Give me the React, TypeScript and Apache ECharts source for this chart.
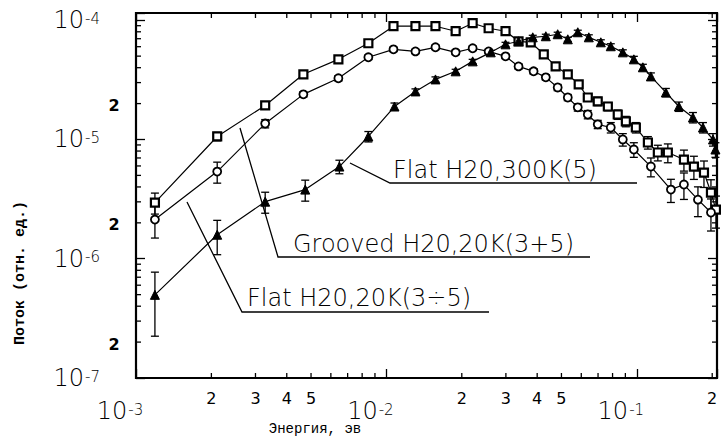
import React, { useEffect, useRef } from "react";
import * as echarts from "echarts";

// ---- Data ----
const energyGrooved = [1.19e-3, 2.11e-3, 3.28e-3, 4.66e-3, 6.43e-3, 8.47e-3, 1.067e-2, 1.306e-2, 1.57e-2, 1.89e-2, 2.21e-2, 2.56e-2, 2.99e-2, 3.37e-2, 3.77e-2, 4.25e-2, 4.74e-2, 5.3e-2, 5.86e-2, 6.37e-2, 6.98e-2, 7.66e-2, 8.39e-2, 9.04e-2, 9.91e-2, 0.1107, 0.1213, 0.133, 0.1542, 0.169, 0.1854, 0.1977, 0.207];
const fluxGrooved = [2.96e-6, 1.06e-5, 1.93e-5, 3.52e-5, 4.7e-5, 6.41e-5, 8.91e-5, 8.91e-5, 8.91e-5, 8.09e-5, 9.44e-5, 8.57e-5, 8.09e-5, 6.66e-5, 6.53e-5, 5.18e-5, 4.1e-5, 3.52e-5, 2.9e-5, 2.25e-5, 2.09e-5, 1.89e-5, 1.62e-5, 1.42e-5, 1.26e-5, 9.44e-6, 7.78e-6, 7.78e-6, 6.79e-6, 5.93e-6, 5.28e-6, 3.59e-6, 2.58e-6];
const errGrooved = [0.2, 0.08, 0.06, 0.05, 0.05, 0.04, 0.04, 0.04, 0.04, 0.04, 0.04, 0.04, 0.04, 0.05, 0.05, 0.05, 0.06, 0.06, 0.07, 0.07, 0.08, 0.08, 0.09, 0.1, 0.1, 0.12, 0.15, 0.18, 0.2, 0.22, 0.25, 0.28, 0.3];

const energyFlat20 = [1.19e-3, 2.11e-3, 3.28e-3, 4.66e-3, 6.43e-3, 8.47e-3, 1.067e-2, 1.306e-2, 1.57e-2, 1.89e-2, 2.21e-2, 2.56e-2, 2.99e-2, 3.37e-2, 3.87e-2, 4.33e-2, 4.83e-2, 5.3e-2, 5.81e-2, 6.37e-2, 6.98e-2, 7.87e-2, 8.79e-2, 9.73e-2, 0.1138, 0.1368, 0.1542, 0.1754, 0.1977];
const fluxFlat20 = [2.13e-6, 5.38e-6, 1.36e-5, 2.39e-5, 3.26e-5, 4.89e-5, 5.7e-5, 5.48e-5, 5.93e-5, 5.38e-5, 5.82e-5, 5.48e-5, 4.98e-5, 4.1e-5, 3.73e-5, 3.32e-5, 2.73e-5, 2.25e-5, 1.86e-5, 1.62e-5, 1.34e-5, 1.26e-5, 1.0e-5, 8.24e-6, 5.93e-6, 3.8e-6, 4.19e-6, 3.13e-6, 2.44e-6];
const errFlat20 = [0.3, 0.2, 0.08, 0.05, 0.05, 0.04, 0.04, 0.04, 0.04, 0.04, 0.04, 0.04, 0.04, 0.05, 0.05, 0.05, 0.06, 0.06, 0.07, 0.08, 0.08, 0.1, 0.12, 0.14, 0.18, 0.22, 0.25, 0.28, 0.3];

const energyFlat300 = [1.19e-3, 2.11e-3, 3.28e-3, 4.74e-3, 6.49e-3, 8.47e-3, 1.077e-2, 1.306e-2, 1.57e-2, 1.89e-2, 2.21e-2, 2.61e-2, 2.99e-2, 3.37e-2, 3.84e-2, 4.33e-2, 4.83e-2, 5.3e-2, 5.81e-2, 6.43e-2, 7.18e-2, 7.87e-2, 8.79e-2, 9.73e-2, 0.1057, 0.1138, 0.1306, 0.1472, 0.1675, 0.1837, 0.2014, 0.206];
const fluxFlat300 = [4.98e-7, 1.59e-6, 3.01e-6, 3.8e-6, 5.93e-6, 1.06e-5, 1.89e-5, 2.53e-5, 3.19e-5, 3.73e-5, 4.52e-5, 5.38e-5, 6.28e-5, 6.66e-5, 7.19e-5, 7.34e-5, 7.63e-5, 6.92e-5, 7.93e-5, 7.19e-5, 6.53e-5, 6.05e-5, 5.38e-5, 4.7e-5, 4.03e-5, 3.38e-5, 2.48e-5, 1.89e-5, 1.53e-5, 1.26e-5, 1.0e-5, 8.24e-6];
const errFlat300 = [0.55, 0.32, 0.2, 0.2, 0.13, 0.1, 0.07, 0.05, 0.05, 0.04, 0.04, 0.04, 0.04, 0.04, 0.04, 0.04, 0.04, 0.04, 0.04, 0.05, 0.05, 0.05, 0.05, 0.06, 0.06, 0.07, 0.08, 0.09, 0.1, 0.1, 0.12, 0.14];

const X_MIN = 1e-3;
const X_MAX = 0.209;
const Y_MIN = 1e-7;
const Y_MAX = 1.15e-4;

const xMinorTicks = [0.002, 0.003, 0.004, 0.005, 0.006, 0.007, 0.008, 0.009, 0.02, 0.03, 0.04, 0.05, 0.06, 0.07, 0.08, 0.09, 0.2];
const xMinorLabelValues = [0.002, 0.003, 0.004, 0.005, 0.02, 0.03, 0.04, 0.05, 0.2];
const xMinorLabelTexts = ["2", "3", "4", "5", "2", "3", "4", "5", "2"];
const yMinorTicks = [2e-7, 3e-7, 4e-7, 5e-7, 6e-7, 7e-7, 8e-7, 9e-7, 2e-6, 3e-6, 4e-6, 5e-6, 6e-6, 7e-6, 8e-6, 9e-6, 2e-5, 3e-5, 4e-5, 5e-5, 6e-5, 7e-5, 8e-5, 9e-5];
const yMinorLabelValues = [2e-7, 2e-6, 2e-5];
const yMinorLabelTexts = ["2", "2", "2"];

const labelFlat300 = "Flat H20,300K(5)";
const labelGrooved = "Grooved H20,20K(3+5)";
const labelFlat20 = "Flat H20,20K(3÷5)";
const xTitle = "Энергия, эв";
const yTitle = "Поток (отн. ед.)";

const FONT = "'DejaVu Sans', 'Open Sans', sans-serif";
const MONO = "'Liberation Mono', 'DejaVu Sans Mono', monospace";

function isDecade(v: number) {
  const l = Math.log10(v);
  return Math.abs(l - Math.round(l)) < 1e-6;
}
function decadeLabel(v: number) {
  if (!isDecade(v)) return "";
  return "{m|10}{e|" + String(Math.round(Math.log10(v))) + "}";
}

const richDecade = {
  m: { fontSize: 24, fontFamily: FONT, fontWeight: 200, color: "#000", lineHeight: 18 },
  e: { fontSize: 15, fontFamily: FONT, fontWeight: 200, color: "#000", verticalAlign: "top", lineHeight: 14, padding: [0, 0, 0, 1] },
};

function lineSeries(E: number[], F: number[], symbol: string, size: number, fill: string, bw: number) {
  return {
    type: "line",
    data: E.map((e, i) => [e, F[i]]),
    symbol,
    symbolSize: size,
    showAllSymbol: true,
    lineStyle: { color: "#000", width: 1.2 },
    itemStyle: { color: fill, borderColor: "#000", borderWidth: bw },
    z: 5,
    silent: true,
  };
}

function errSeries(E: number[], F: number[], R: number[]) {
  return {
    type: "custom",
    coordinateSystem: "cartesian2d",
    silent: true,
    z: 4,
    encode: { x: 0, y: [1, 2] },
    data: E.map((e, i) => [e, F[i] * (1 - R[i]), F[i] * (1 + R[i])]),
    renderItem: (params: any, api: any) => {
      const lo = api.coord([api.value(0), api.value(1)]);
      const hi = api.coord([api.value(0), api.value(2)]);
      const w = 4;
      const st = { stroke: "#000", lineWidth: 1.3 };
      return {
        type: "group",
        children: [
          { type: "line", shape: { x1: lo[0], y1: lo[1], x2: hi[0], y2: hi[1] }, style: st },
          { type: "line", shape: { x1: lo[0] - w, y1: lo[1], x2: lo[0] + w, y2: lo[1] }, style: st },
          { type: "line", shape: { x1: hi[0] - w, y1: hi[1], x2: hi[0] + w, y2: hi[1] }, style: st },
        ],
      };
    },
  };
}

export default function App() {
  const ref = useRef<HTMLDivElement>(null);
  useEffect(() => {
    if (!ref.current) return;
    const chart = echarts.init(ref.current, null, { renderer: "svg" });
    const tickStyle = { stroke: "#000", lineWidth: 1.3 };
    const annFont = "200 24px " + FONT;
    const option: any = {
      animation: false,
      backgroundColor: "#fff",
      grid: { left: 136, top: 13, right: 4, bottom: 59, show: true, borderColor: "#000", borderWidth: 2.2, backgroundColor: "transparent" },
      xAxis: [
        {
          type: "log", logBase: 10, min: X_MIN, max: X_MAX,
          axisLine: { show: false }, splitLine: { show: false },
          axisTick: { inside: true, length: 9, lineStyle: { color: "#000", width: 1.3 } },
          axisLabel: { formatter: decadeLabel, rich: richDecade, margin: 24, padding: [0, 32, 0, 0], showMinLabel: true },
        },
        {
          type: "log", logBase: 10, min: X_MIN, max: X_MAX, position: "top",
          axisLine: { show: false }, splitLine: { show: false },
          axisTick: { inside: true, length: 9, lineStyle: { color: "#000", width: 1.3 } },
          axisLabel: { show: false },
        },
      ],
      yAxis: [
        {
          type: "log", logBase: 10, min: Y_MIN, max: Y_MAX,
          axisLine: { show: false }, splitLine: { show: false },
          axisTick: { inside: true, length: 9, lineStyle: { color: "#000", width: 1.3 } },
          axisLabel: { formatter: decadeLabel, rich: richDecade, margin: 36, showMinLabel: true },
        },
        {
          type: "log", logBase: 10, min: Y_MIN, max: Y_MAX, position: "right",
          axisLine: { show: false }, splitLine: { show: false },
          axisTick: { inside: true, length: 9, lineStyle: { color: "#000", width: 1.3 } },
          axisLabel: { show: false },
        },
      ],
      series: [
        {
          type: "custom", coordinateSystem: "cartesian2d", silent: true, clip: false, z: 3,
          data: xMinorTicks.map((v) => [v, Y_MIN]),
          renderItem: (params: any, api: any) => {
            const b = api.coord([api.value(0), Y_MIN]);
            const t = api.coord([api.value(0), Y_MAX]);
            return {
              type: "group",
              children: [
                { type: "line", shape: { x1: b[0], y1: b[1], x2: b[0], y2: b[1] - 5 }, style: tickStyle },
                { type: "line", shape: { x1: t[0], y1: t[1], x2: t[0], y2: t[1] + 5 }, style: tickStyle },
              ],
            };
          },
        },
        {
          type: "custom", coordinateSystem: "cartesian2d", silent: true, clip: false, z: 3,
          data: xMinorLabelValues.map((v) => [v, Y_MIN]),
          renderItem: (params: any, api: any) => {
            const b = api.coord([api.value(0), Y_MIN]);
            return {
              type: "text", x: b[0], y: b[1] + 20,
              style: { text: xMinorLabelTexts[params.dataIndex], font: "16px " + FONT, fill: "#000", align: "center", verticalAlign: "middle", textAlign: "center", textVerticalAlign: "middle" },
            };
          },
        },
        {
          type: "custom", coordinateSystem: "cartesian2d", silent: true, clip: false, z: 3,
          data: yMinorTicks.map((v) => [X_MIN, v]),
          renderItem: (params: any, api: any) => {
            const l = api.coord([X_MIN, api.value(1)]);
            const r = api.coord([X_MAX, api.value(1)]);
            return {
              type: "group",
              children: [
                { type: "line", shape: { x1: l[0], y1: l[1], x2: l[0] + 5, y2: l[1] }, style: tickStyle },
                { type: "line", shape: { x1: r[0], y1: r[1], x2: r[0] - 5, y2: r[1] }, style: tickStyle },
              ],
            };
          },
        },
        {
          type: "custom", coordinateSystem: "cartesian2d", silent: true, clip: false, z: 3,
          data: yMinorLabelValues.map((v) => [X_MIN, v]),
          renderItem: (params: any, api: any) => {
            const l = api.coord([X_MIN, api.value(1)]);
            return {
              type: "text", x: l[0] - 22, y: l[1] + 2,
              style: { text: yMinorLabelTexts[params.dataIndex], font: "bold 16px " + FONT, fill: "#000", align: "center", verticalAlign: "middle", textAlign: "center", textVerticalAlign: "middle" },
            };
          },
        },
        errSeries(energyGrooved, fluxGrooved, errGrooved),
        errSeries(energyFlat20, fluxFlat20, errFlat20),
        errSeries(energyFlat300, fluxFlat300, errFlat300),
        lineSeries(energyGrooved, fluxGrooved, "rect", 8, "#fff", 2.2),
        lineSeries(energyFlat20, fluxFlat20, "circle", 8, "#fff", 1.8),
        lineSeries(energyFlat300, fluxFlat300, "triangle", 9, "#000", 1),
      ],
      graphic: [
        { type: "polyline", shape: { points: [[350, 163], [390, 183], [637, 183]] }, style: { stroke: "#000", lineWidth: 1.3, fill: "none" }, z: 10 },
        { type: "text", x: 393, y: 170, style: { text: labelFlat300, font: annFont, fill: "#000", textVerticalAlign: "middle", verticalAlign: "middle" }, z: 10 },
        { type: "polyline", shape: { points: [[240, 128], [278, 257], [590, 257]] }, style: { stroke: "#000", lineWidth: 1.3, fill: "none" }, z: 10 },
        { type: "text", x: 293, y: 244, style: { text: labelGrooved, font: annFont, fill: "#000", textVerticalAlign: "middle", verticalAlign: "middle" }, z: 10 },
        { type: "polyline", shape: { points: [[187, 202], [242, 312], [489, 312]] }, style: { stroke: "#000", lineWidth: 1.3, fill: "none" }, z: 10 },
        { type: "text", x: 247, y: 298, style: { text: labelFlat20, font: annFont, fill: "#000", textVerticalAlign: "middle", verticalAlign: "middle" }, z: 10 },
        { type: "text", x: 315, y: 429, style: { text: xTitle, font: "14px " + MONO, fill: "#000", textAlign: "center", align: "center", textVerticalAlign: "middle", verticalAlign: "middle" }, z: 10 },
        { type: "text", x: 20, y: 273, rotation: Math.PI / 2, style: { text: yTitle, font: "bold 15px " + MONO, fill: "#000", textAlign: "center", align: "center", textVerticalAlign: "middle", verticalAlign: "middle" }, z: 10 },
      ],
    };
    chart.setOption(option);
    return () => chart.dispose();
  }, []);
  return (
    <div
      ref={ref}
      style={{ position: "fixed", left: 0, top: 0, width: 721, height: 437, background: "#fff" }}
    />
  );
}
